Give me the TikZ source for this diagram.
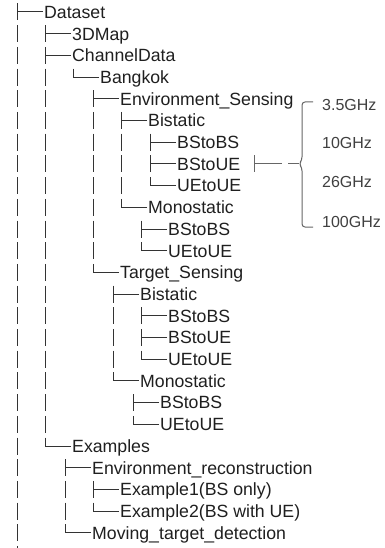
\documentclass[tikz,border=0pt]{standalone}
\usepackage{fontspec}
\setmainfont{Liberation Sans}
\usetikzlibrary{positioning}

\begin{document}
\begin{tikzpicture}[x=1pt, y=1pt,
    leaf/.style={anchor=west, inner xsep=1pt, inner ysep=0pt, text height=12.7pt, text depth=0pt, font=\fontsize{17.7}{20}\selectfont, text=black!88},
    freq/.style={anchor=west, inner sep=0pt, text height=11.7pt, text depth=0pt, font=\fontsize{16}{18}\selectfont, text=black!75},
    tline/.style={draw=black!80, line width=1pt},
    vline/.style={tline, dash pattern=on 17pt off 4.7pt},
    gline/.style={draw=black!60, line width=1pt}]
    \useasboundingbox (0,0) rectangle (384,-548);

    \node[leaf] (dataset) at (43,-12) {Dataset};
    \node[leaf] (map) at (71,-33.7) {3DMap};
    \node[leaf] (channel) at (71,-55.4) {ChannelData};
    \node[leaf] (bangkok) at (99,-77.1) {Bangkok};
    \node[leaf] (envsens) at (119,-98.8) {Environment\_Sensing};
    \node[leaf] (envbi) at (147,-120.5) {Bistatic};
    \node[leaf] (envbibb) at (176,-142.2) {BStoBS};
    \node[leaf] (envbibu) at (176,-163.9) {BStoUE};
    \node[leaf] (envbiuu) at (176,-185.6) {UEtoUE};
    \node[leaf] (envmono) at (147,-207.3) {Monostatic};
    \node[leaf] (envmonobb) at (167,-229) {BStoBS};
    \node[leaf] (envmonouu) at (167,-250.7) {UEtoUE};
    \node[leaf] (tgtsens) at (119,-272.4) {Target\_Sensing};
    \node[leaf] (tgtbi) at (139,-294.1) {Bistatic};
    \node[leaf] (tgtbibb) at (167,-315.8) {BStoBS};
    \node[leaf] (tgtbibu) at (167,-337.5) {BStoUE};
    \node[leaf] (tgtbiuu) at (167,-359.2) {UEtoUE};
    \node[leaf] (tgtmono) at (139,-380.9) {Monostatic};
    \node[leaf] (tgtmonobb) at (159,-402.6) {BStoBS};
    \node[leaf] (tgtmonouu) at (159,-424.3) {UEtoUE};
    \node[leaf] (examples) at (71,-446) {Examples};
    \node[leaf] (envrec) at (91,-467.7) {Environment\_reconstruction};
    \node[leaf] (exone) at (119,-489.4) {Example1(BS only)};
    \node[leaf] (extwo) at (119,-511.1) {Example2(BS with UE)};
    \node[leaf] (moving) at (91,-532.8) {Moving\_target\_detection};

    \node[freq] (fa) at (322,-105) {3.5GHz};
    \node[freq] (fb) at (322,-143) {10GHz};
    \node[freq] (fc) at (322,-182) {26GHz};
    \node[freq] (fd) at (322,-222) {100GHz};
    \coordinate (tip) at (299,-163.9);

    \foreach \n in {dataset,map,channel,bangkok,envsens,envbi,envbibb,envbibu,envbiuu,envmono,envmonobb,envmonouu,tgtsens,tgtbi,tgtbibb,tgtbibu,tgtbiuu,tgtmono,tgtmonobb,tgtmonouu,examples,envrec,exone,extwo,moving}
        \draw[tline] (\n.west) -- ++(-26,0);
    \draw[vline] ([xshift=-26pt,yshift=8.5pt]dataset.west) -- ++(0,-545);
    \foreach \a/\b in {map/examples,bangkok/bangkok,envsens/tgtsens,envbi/envmono,envbibb/envbiuu,envmonobb/envmonouu,tgtbi/tgtmono,tgtbibb/tgtbiuu,tgtmonobb/tgtmonouu,envrec/moving,exone/extwo}
        \draw[vline] ([xshift=-26pt,yshift=8.5pt]\a.west) -- ([xshift=-26pt]\b.west);

    \draw[gline] ([xshift=-45pt,yshift=8.5pt]tip) -- ++(0,-17);
    \draw[gline] ([xshift=-45pt]tip) -- ++(28,0);
    \draw[gline] ([xshift=-11pt]tip) -- (tip);
    \draw[gline, rounded corners=3pt] ([xshift=-9pt,yshift=3pt]fa.west) -| ([xshift=3pt,yshift=4pt]tip) -- (tip) -- ([xshift=3pt,yshift=-4pt]tip) |- ([xshift=-9pt,yshift=-5pt]fd.west);
\end{tikzpicture}
\end{document}
